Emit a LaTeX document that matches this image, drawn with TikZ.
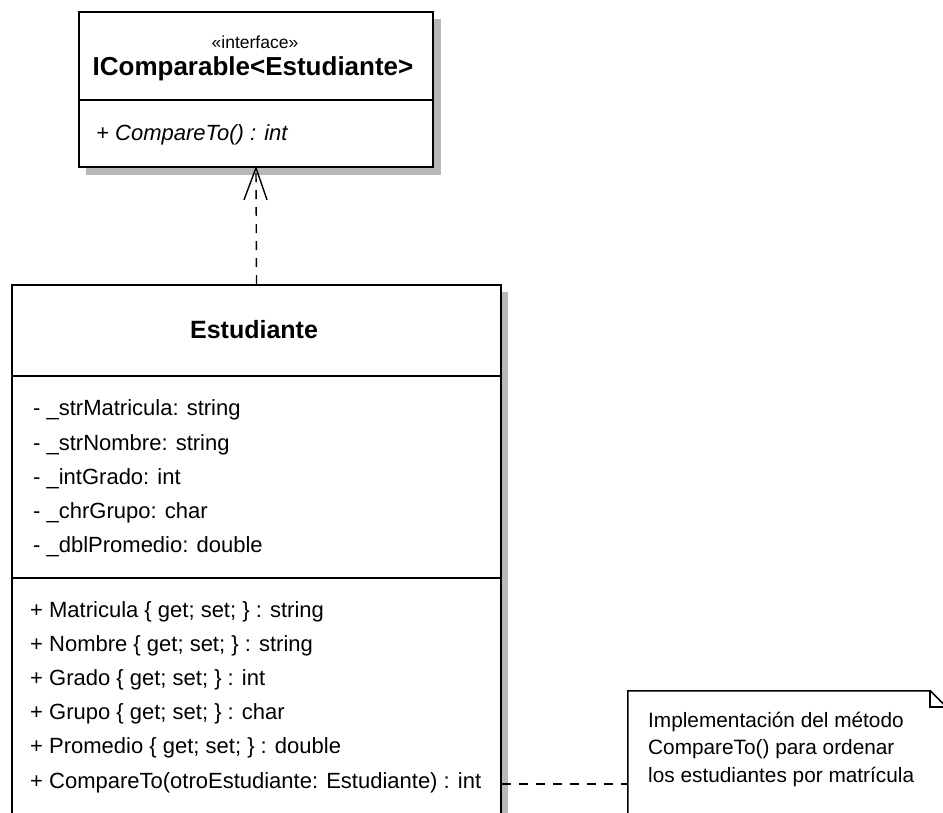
\documentclass[tikz,border=0pt]{standalone}
\usepackage{fontspec}
\setmainfont{Liberation Sans}
\begin{document}
\begin{tikzpicture}[x=1pt,y=-1pt,
  umlbox/.style={draw=black,line width=1.7pt,fill=white,inner sep=0pt},
  dropshadow/.style={fill=black!28,draw=none},
  divider/.style={line width=1.7pt},
  member/.style={anchor=west,inner sep=0pt,font=\fontsize{22}{24}\selectfont},
  classname/.style={inner sep=0pt,font=\bfseries\fontsize{25}{28}\selectfont},
  stereo/.style={inner sep=0pt,font=\fontsize{17.5}{19}\selectfont},
  dashlink/.style={line width=1.4pt,dash pattern=on 9pt off 8pt},
  notetxt/.style={anchor=west,inner sep=0pt,align=left,font=\fontsize{20.8}{27.5}\selectfont}
]
\clip (0,0) rectangle (943,813);
\fill[white] (0,0) rectangle (943,813);

% drop shadows
\fill[dropshadow] (86,19) rectangle (441,175);
\fill[dropshadow] (19,292) rectangle (508,840);

% interface box
\node[umlbox,minimum width=354pt,minimum height=155pt] (iface) at (256,89.5) {};
\draw[divider] (iface.west |- 0,100) -- (iface.east |- 0,100);
\node[stereo] (istereo) at (255,42) {«interface»};
\node[inner sep=0pt,font=\bfseries\fontsize{26}{29}\selectfont] (iname) at (253,69) {IComparable<Estudiante>};
\node[member,font=\itshape\fontsize{22}{24}\selectfont] (iop) at (96,135) {+ CompareTo() : int};

% class box
\node[umlbox,minimum width=489pt,minimum height=545pt] (est) at (256.5,557.5) {};
\draw[divider] (est.west |- 0,376) -- (est.east |- 0,376);
\draw[divider] (est.west |- 0,578) -- (est.east |- 0,578);
\node[classname] (ename) at (254,330) {Estudiante};

\node[member] (a1) at (33,410) {- \_strMatricula: string};
\node[member] (a2) at (33,445) {- \_strNombre: string};
\node[member] (a3) at (33,479) {- \_intGrado: int};
\node[member] (a4) at (33,513) {- \_chrGrupo: char};
\node[member] (a5) at (33,547) {- \_dblPromedio: double};

\node[member] (m1) at (30,612) {+ Matricula \{ get; set; \} : string};
\node[member] (m2) at (30,646) {+ Nombre \{ get; set; \} : string};
\node[member] (m3) at (30,680) {+ Grado \{ get; set; \} : int};
\node[member] (m4) at (30,714) {+ Grupo \{ get; set; \} : char};
\node[member] (m5) at (30,748) {+ Promedio \{ get; set; \} : double};
\node[member] (m6) at (30,783) {+ CompareTo(otroEstudiante: Estudiante) : int};

% note with folded corner
\node[draw=none,minimum width=318pt,minimum height=149pt,inner sep=0pt] (note) at (787,765.5) {};
\draw[line width=1.6pt,fill=white]
  (note.north west) -- ([xshift=-16pt]note.north east) -- ([yshift=-16pt]note.north east)
  -- (note.south east) -- (note.south west) -- cycle;
\draw[line width=1.6pt] ([xshift=-16pt]note.north east) -- ([xshift=-16pt,yshift=-16pt]note.north east)
  -- ([yshift=-16pt]note.north east);
\node[notetxt] (notetext) at (648,749) {Implementación del método\\CompareTo() para ordenar\\los estudiantes por matrícula};

% realization: Estudiante implements IComparable<Estudiante>
\draw[dashlink] (est.north) -- (iface.south);
\draw[line width=1.4pt] ([shift={(-12,32)}]iface.south) -- (iface.south) -- ([shift={(11,32)}]iface.south);

% note anchor line
\draw[dashlink] (est.east |- 0,784) -- (note.west |- 0,784);
\end{tikzpicture}
\end{document}
